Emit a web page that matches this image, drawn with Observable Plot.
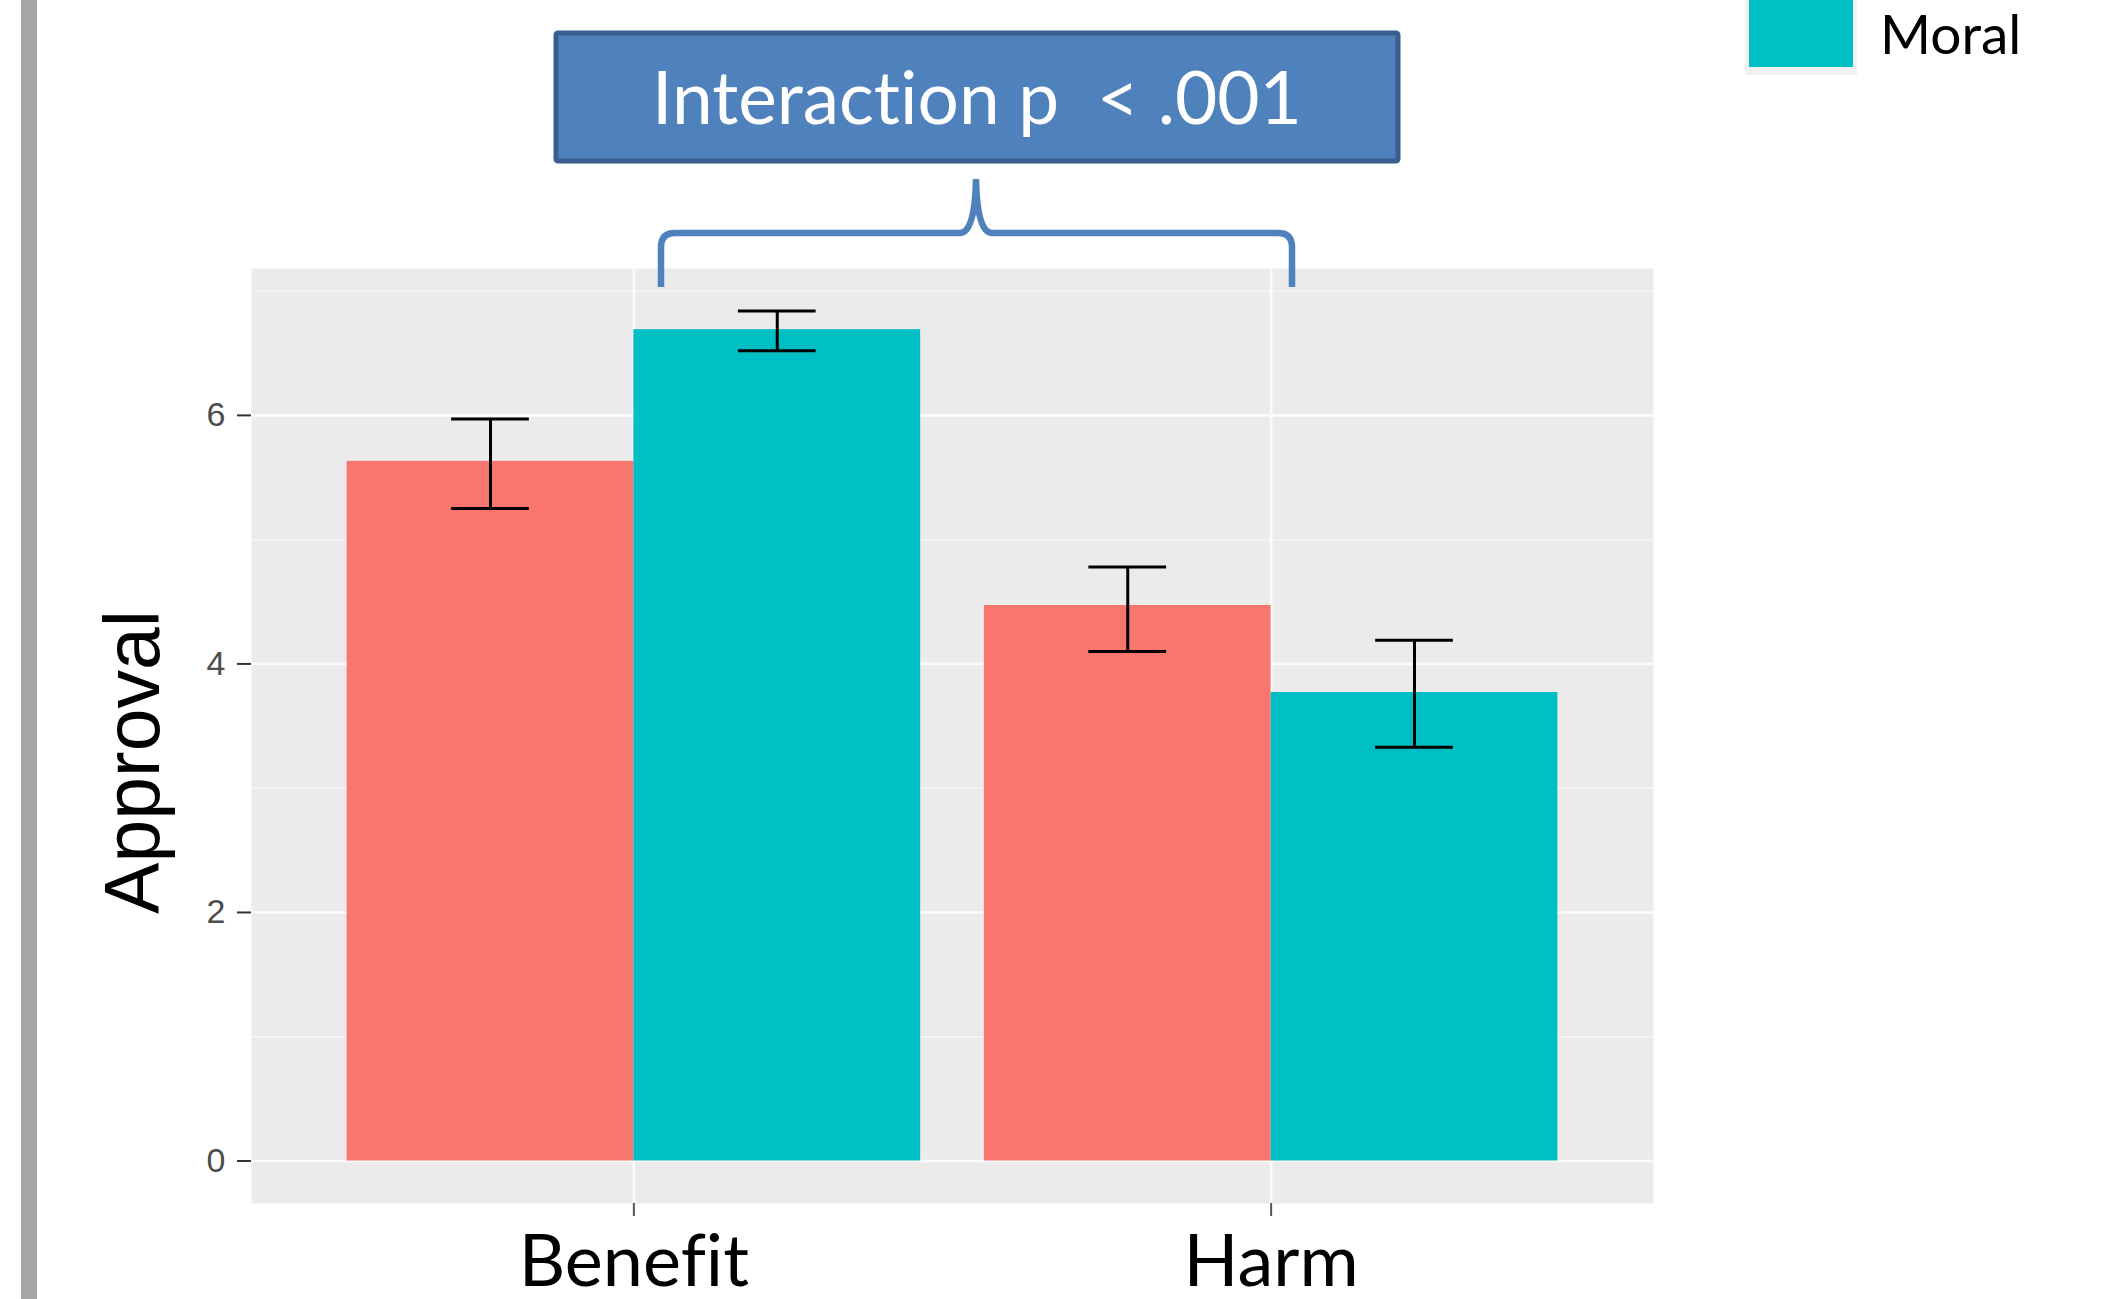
<!DOCTYPE html>
<html>
<head>
<meta charset="utf-8">
<script src="https://cdn.jsdelivr.net/npm/d3@7"></script>
<script src="https://cdn.jsdelivr.net/npm/@observablehq/plot@0.6"></script>
<style>
  html, body { margin: 0; padding: 0; background: #fff; overflow: hidden; }
  #chart { position: relative; width: 2103px; height: 1299px; }
  #chart svg { display: block; }
  #chart svg text { font-variant-ligatures: none; }
</style>
</head>
<body>
<div id="chart"></div>
<script>
// Mean approval by scenario type and framing, with error-bar limits
const categories = ["Benefit", "Harm"];
const conditions = ["Control", "Moral"];
const controlMeans = [5.63, 4.47];
const controlLower = [5.25, 4.10];
const controlUpper = [5.97, 4.78];
const moralMeans = [6.69, 3.77];
const moralLower = [6.52, 3.33];
const moralUpper = [6.84, 4.19];
const conditionColors = ["#f8766d", "#00bfc4"];
const yTicks = [0, 2, 4, 6];
const yMinorTicks = [1, 3, 5, 7];
const annotationText = "Interaction p  < .001";
const yLabel = "Approval";

// dodged positions: each category sits at 1, 2, …; bars share a 0.9-wide group
const groupWidth = 0.9;
const barWidth = groupWidth / conditions.length;
const capHalf = 0.061;

const series = [
  {condition: "Control", means: controlMeans, lower: controlLower, upper: controlUpper},
  {condition: "Moral", means: moralMeans, lower: moralLower, upper: moralUpper}
];
const rows = [];
categories.forEach((category, i) => {
  series.forEach((s, j) => {
    const x1 = i + 1 - groupWidth / 2 + j * barWidth;
    rows.push({
      category, condition: s.condition,
      mean: s.means[i], lo: s.lower[i], hi: s.upper[i],
      x1, x2: x1 + barWidth, xc: x1 + barWidth / 2
    });
  });
});
const positions = categories.map((_, i) => i + 1);

// ggplot-style expansion of the value range
const yMax = d3.max(rows, d => d.hi);
const yPad = yMax * 0.05;

const calibriLike = "Lato, 'Open Sans', sans-serif";
const arialLike = "'Liberation Sans', Arial, sans-serif";

const plot = Plot.plot({
  width: 2103,
  height: 1299,
  marginLeft: 251,
  marginRight: 450,
  marginTop: 268,
  marginBottom: 96,
  style: {background: "transparent", overflow: "visible"},
  x: {domain: [0.4, positions.length + 0.6], axis: null},
  y: {domain: [-yPad, yMax + yPad], axis: null},
  color: {domain: conditions, range: conditionColors},
  marks: [
    Plot.frame({fill: "#ebebeb", stroke: null}),
    Plot.ruleY(yMinorTicks, {stroke: "#f7f7f7", strokeWidth: 1.4}),
    Plot.ruleY(yTicks, {stroke: "#fbfbfb", strokeWidth: 2.6}),
    Plot.ruleX(positions, {stroke: "#fbfbfb", strokeWidth: 2.6}),
    Plot.rectY(rows, {x1: "x1", x2: "x2", y1: 0, y2: "mean", fill: "condition"}),
    Plot.ruleX(rows, {x: "xc", y1: "lo", y2: "hi", stroke: "#000", strokeWidth: 3}),
    Plot.ruleY(rows, {y: "hi", x1: d => d.xc - capHalf, x2: d => d.xc + capHalf, stroke: "#000", strokeWidth: 3}),
    Plot.ruleY(rows, {y: "lo", x1: d => d.xc - capHalf, x2: d => d.xc + capHalf, stroke: "#000", strokeWidth: 3}),
    Plot.axisY(yTicks, {
      tickFormat: d3.format("d"),
      tickSize: 14, tickPadding: 12, fontSize: 34,
      fontFamily: arialLike,
      color: "#4d4d4d", strokeWidth: 2, label: null
    }),
    Plot.axisX(positions, {
      tickFormat: d => categories[d - 1],
      tickSize: 13, tickPadding: 18, fontSize: 72,
      fontFamily: calibriLike, color: "#000", strokeWidth: 2, label: null
    })
  ]
});

document.getElementById("chart").appendChild(plot);

const svg = d3.select(plot);
svg.selectAll('[aria-label="x-axis tick"]').attr("stroke", "#555");
svg.selectAll('[aria-label="y-axis tick"]').attr("stroke", "#333");

// left page rule
svg.append("rect")
  .attr("x", 21).attr("y", 0).attr("width", 16).attr("height", 1299)
  .attr("fill", "#a6a6a6");

// y-axis title
svg.append("text")
  .attr("transform", "translate(159,762) rotate(-90)")
  .attr("text-anchor", "middle")
  .attr("font-family", arialLike)
  .attr("font-size", 77)
  .attr("fill", "#000")
  .text(yLabel);

// interaction annotation box
svg.append("rect")
  .attr("x", 556).attr("y", 33).attr("width", 842).attr("height", 128)
  .attr("rx", 2)
  .attr("fill", "#4f81bd").attr("stroke", "#3a5f8e").attr("stroke-width", 5);
svg.append("text")
  .attr("x", 977).attr("y", 124)
  .attr("text-anchor", "middle")
  .attr("font-family", calibriLike)
  .attr("font-size", 73)
  .attr("fill", "#fff")
  .style("white-space", "pre")
  .text(annotationText);

// curly brace spanning the two scenario groups
svg.append("path")
  .attr("d", "M661,287 L661,247 Q661,233 675,233 L960,233 Q975,233 976,179 Q977,233 992,233 L1278,233 Q1292,233 1292,247 L1292,287")
  .attr("fill", "none").attr("stroke", "#4f81bd").attr("stroke-width", 6.5);

// legend entry (only the last key remains in view)
const legendColor = plot.scale("color").apply("Moral");
svg.append("rect")
  .attr("x", 1745).attr("y", -10).attr("width", 112).attr("height", 85)
  .attr("fill", "#f2f2f2");
svg.append("rect")
  .attr("x", 1749).attr("y", -10).attr("width", 104).attr("height", 77)
  .attr("fill", legendColor);
svg.append("text")
  .attr("x", 1880).attr("y", 54)
  .attr("text-anchor", "start")
  .attr("font-family", calibriLike)
  .attr("font-size", 55)
  .attr("fill", "#000")
  .text("Moral");
</script>
</body>
</html>
